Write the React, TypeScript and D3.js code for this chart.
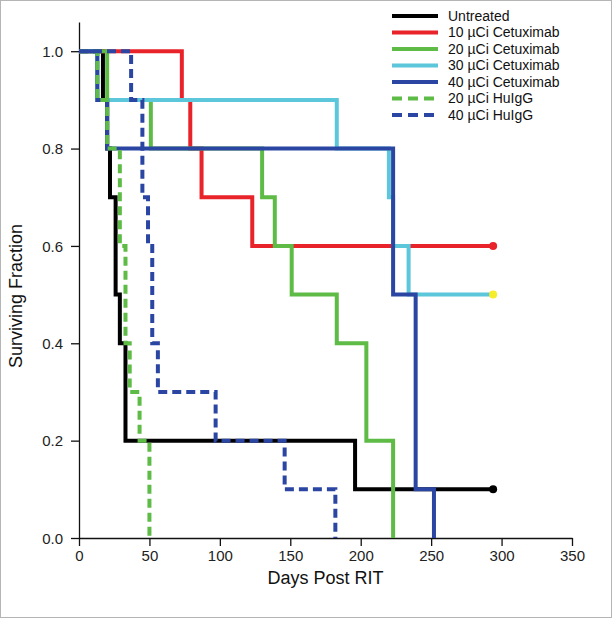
import { useEffect, useRef } from 'react';
import * as d3 from 'd3';

// Kaplan-Meier steps: day of each step and surviving fraction after it
const untreatedDays = [0, 17, 20, 22, 26, 29, 33, 196, 294];
const untreatedSurv = [1, 0.9, 0.8, 0.7, 0.5, 0.4, 0.2, 0.1, 0.1];

const cet10Days = [0, 73, 79, 87, 123, 294];
const cet10Surv = [1, 0.9, 0.8, 0.7, 0.6, 0.6];

const cet20Days = [0, 20, 51, 130, 139, 151, 183, 204, 223];
const cet20Surv = [1, 0.9, 0.8, 0.7, 0.6, 0.5, 0.4, 0.2, 0];

const cet30Days = [0, 13, 183, 220, 223, 234, 294];
const cet30Surv = [1, 0.9, 0.8, 0.7, 0.6, 0.5, 0.5];

const cet40Days = [0, 13, 20, 223, 239, 252];
const cet40Surv = [1, 0.9, 0.8, 0.5, 0.1, 0];

const hu20Days = [0, 13, 20, 29, 33, 36, 43, 50];
const hu20Surv = [1, 0.9, 0.8, 0.6, 0.4, 0.3, 0.2, 0];

const hu40Days = [0, 37, 45, 49, 52, 56, 97, 146, 182];
const hu40Surv = [1, 0.9, 0.7, 0.6, 0.4, 0.3, 0.2, 0.1, 0];

const seriesNames = [
  'Untreated',
  '10 \u00b5Ci Cetuximab',
  '20 \u00b5Ci Cetuximab',
  '30 \u00b5Ci Cetuximab',
  '40 \u00b5Ci Cetuximab',
  '20 \u00b5Ci HuIgG',
  '40 \u00b5Ci HuIgG',
];
const seriesColors = ['#000000', '#e8232a', '#5dbb46', '#5cc6da', '#2a46a2', '#5dbb46', '#2a46a2'];
const seriesDash = [null, null, null, null, null, '9,5', '9,5'];
const seriesDays = [untreatedDays, cet10Days, cet20Days, cet30Days, cet40Days, hu20Days, hu40Days];
const seriesSurv = [untreatedSurv, cet10Surv, cet20Surv, cet30Surv, cet40Surv, hu20Surv, hu40Surv];

// censored end marks
const censorDays = [294, 294, 294];
const censorSurv = [0.1, 0.6, 0.5];
const censorColors = ['#000000', '#e8232a', '#f5ec2a'];

const xTicks = [0, 50, 100, 150, 200, 250, 300, 350];
const yTicks = [0, 0.2, 0.4, 0.6, 0.8, 1.0];

function App() {
  const ref = useRef<SVGSVGElement>(null);

  useEffect(() => {
    const svg = d3.select(ref.current);
    svg.selectAll('*').remove();

    const config = { width: 612, height: 618, left: 79, right: 572, top: 22, bottom: 538 };
    const font = 'Arial, "Liberation Sans", sans-serif';

    svg.append('rect')
      .attr('x', 0.5).attr('y', 0.5)
      .attr('width', config.width - 1).attr('height', config.height - 1)
      .attr('fill', '#fff').attr('stroke', '#b5b5b5');

    const x = d3.scaleLinear().domain([0, 350]).range([config.left, config.right]);
    const y = d3.scaleLinear().domain([0, 1.06]).range([config.bottom, config.top]);

    const xAxis = svg.append('g')
      .attr('transform', `translate(0,${config.bottom})`)
      .call(d3.axisBottom(x).tickValues(xTicks).tickSize(8).tickSizeOuter(0).tickFormat(d3.format('d')));
    const yAxis = svg.append('g')
      .attr('transform', `translate(${config.left},0)`)
      .call(d3.axisLeft(y).tickValues(yTicks).tickSize(8).tickSizeOuter(0).tickFormat(d3.format('.1f')));

    for (const ax of [xAxis, yAxis]) {
      ax.select('.domain').attr('stroke', '#111').attr('stroke-width', 1.3);
      ax.selectAll('.tick line').attr('stroke', '#111').attr('stroke-width', 1.3);
      ax.selectAll('.tick text')
        .attr('fill', '#222')
        .style('font-family', font)
        .style('font-size', '15px');
    }
    xAxis.selectAll('.tick text').attr('y', 12).attr('dy', '0.71em');
    yAxis.selectAll('.tick text').attr('x', -16).attr('dy', '0.35em');

    svg.append('text')
      .attr('x', (config.left + config.right) / 2)
      .attr('y', 584)
      .attr('text-anchor', 'middle')
      .style('font-family', font)
      .style('font-size', '18px')
      .attr('fill', '#111')
      .text('Days Post RIT');

    svg.append('text')
      .attr('transform', `translate(22,${(config.top + config.bottom) / 2 + 16}) rotate(-90)`)
      .attr('text-anchor', 'middle')
      .style('font-family', font)
      .style('font-size', '18px')
      .attr('fill', '#111')
      .text('Surviving Fraction');

    const line = d3.line<[number, number]>()
      .x(d => x(d[0]))
      .y(d => y(d[1]))
      .curve(d3.curveStepAfter);

    const plot = svg.append('g');
    seriesNames.forEach((name, i) => {
      const pts = seriesDays[i].map((d, j) => [d, seriesSurv[i][j]] as [number, number]);
      plot.append('path')
        .attr('d', line(pts))
        .attr('fill', 'none')
        .attr('stroke', seriesColors[i])
        .attr('stroke-width', 4)
        .attr('stroke-dasharray', seriesDash[i])
        .attr('stroke-linejoin', 'miter');
    });

    plot.selectAll('circle')
      .data(censorDays)
      .enter()
      .append('circle')
      .attr('cx', d => x(d))
      .attr('cy', (d, i) => y(censorSurv[i]))
      .attr('r', 4)
      .attr('fill', (d, i) => censorColors[i]);

    const legend = svg.append('g').attr('transform', 'translate(392,16)');
    seriesNames.forEach((name, i) => {
      const g = legend.append('g').attr('transform', `translate(0,${i * 16.5})`);
      g.append('line')
        .attr('x1', 0).attr('x2', 46)
        .attr('stroke', seriesColors[i])
        .attr('stroke-width', 4)
        .attr('stroke-dasharray', seriesDash[i] ? '10,6' : null);
      g.append('text')
        .attr('x', 56).attr('dy', '0.35em')
        .style('font-family', font)
        .style('font-size', '14px')
        .attr('fill', '#111')
        .text(name);
    });
  }, []);

  return (
    <svg ref={ref} width={612} height={618}
      style={{ position: 'absolute', left: 0, top: 0, background: '#fff' }} />
  );
}

export default App;
